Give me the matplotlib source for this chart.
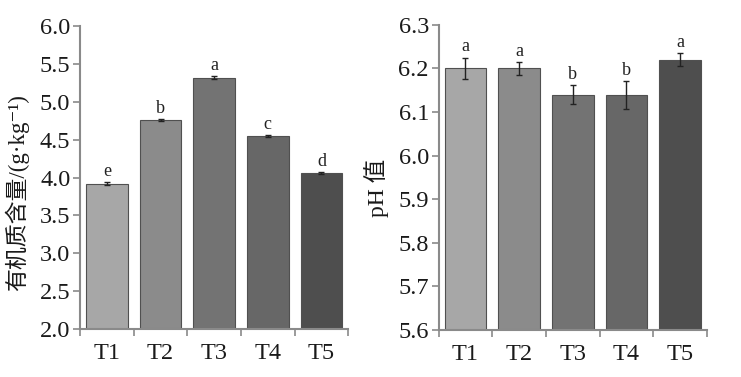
import numpy as np
import matplotlib
matplotlib.use("Agg")
import matplotlib.pyplot as plt

# data
groups = ["T1", "T2", "T3", "T4", "T5"]
om_vals = [3.92, 4.76, 5.32, 4.55, 4.06]
om_err = [0.015, 0.012, 0.02, 0.012, 0.012]
om_sig = ["e", "b", "a", "c", "d"]
ph_vals = [6.20, 6.20, 6.14, 6.14, 6.22]
ph_err = [0.025, 0.015, 0.021, 0.032, 0.015]
ph_sig = ["a", "a", "b", "b", "a"]

bar_colors = ["#a7a7a7", "#8b8b8b", "#737373", "#676767", "#4e4e4e"]

plt.rcParams["font.family"] = ["Liberation Serif", "Noto Sans CJK SC", "DejaVu Sans"]

fig = plt.figure(figsize=(7.41, 3.77), dpi=100)
ax1 = fig.add_axes([0.108, 0.127, 0.362, 0.804])
ax2 = fig.add_axes([0.592, 0.125, 0.362, 0.809])


def draw_panel(ax, vals, errs, sig, ylim, yticks, pad):
    x = np.arange(len(groups))
    ax.bar(x, [v - ylim[0] for v in vals], bottom=ylim[0], width=0.78,
           color=bar_colors, edgecolor="#505050", linewidth=0.8, zorder=2)
    ax.errorbar(x, vals, yerr=errs, fmt="none", ecolor="#222222",
                elinewidth=1.0, capsize=2.5, capthick=1.0, zorder=3)
    for xi, v, e, s in zip(x, vals, errs, sig):
        ax.annotate(s, (xi, v + e), xytext=(0, pad), textcoords="offset points",
                    ha="center", va="bottom", fontsize=13, color="#222222")
    ax.set_xlim(-0.5, len(groups) - 0.5)
    ax.set_ylim(*ylim)
    ax.set_yticks(yticks)
    ax.set_yticklabels(["{:.1f}".format(t) for t in yticks])
    ax.set_xticks(x)
    ax.set_xticklabels(groups)
    ax.set_xticks(np.arange(-0.5, len(groups)), minor=True)
    ax.tick_params(axis="x", which="major", length=0, pad=10, labelsize=17.5,
                   labelcolor="#1a1a1a")
    ax.tick_params(axis="x", which="minor", length=5, width=1.2,
                   color="#8a8a8a", direction="out")
    ax.tick_params(axis="y", length=5, width=1.2, color="#8a8a8a",
                   direction="out", pad=2, labelsize=17.5, labelcolor="#1a1a1a")
    for side in ["top", "right"]:
        ax.spines[side].set_visible(False)
    for side in ["left", "bottom"]:
        ax.spines[side].set_color("#8a8a8a")
        ax.spines[side].set_linewidth(1.5)


draw_panel(ax1, om_vals, om_err, om_sig, (2.0, 6.0),
           np.arange(2.0, 6.01, 0.5), 1.5)
draw_panel(ax2, ph_vals, ph_err, ph_sig, (5.6, 6.3),
           np.round(np.arange(5.6, 6.301, 0.1), 1), 1.5)

ax1.set_ylabel("有机质含量/(g·kg⁻¹)", fontsize=16.5, color="#1a1a1a")
ax1.yaxis.set_label_coords(-0.19, 0.45)
ax2.set_ylabel("pH 值", fontsize=17, color="#1a1a1a")
ax2.yaxis.set_label_coords(-0.185, 0.466)

fig.savefig("out.png", dpi=100)
